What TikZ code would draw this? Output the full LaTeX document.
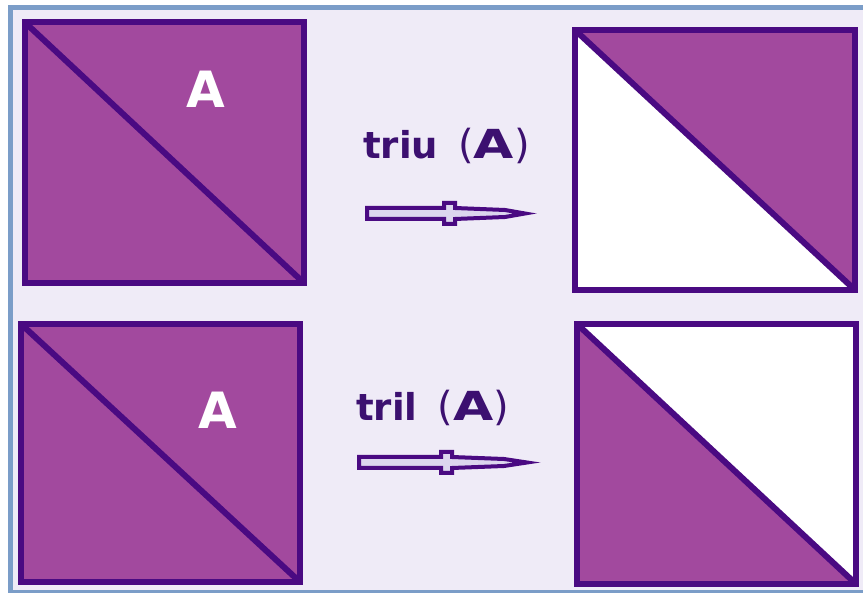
\documentclass[tikz,border=0pt]{standalone}
\usepackage{fontspec}
\setsansfont{DejaVu Sans}
\definecolor{framecol}{HTML}{7B9DC8}
\definecolor{bgcol}{HTML}{EFEBF7}
\definecolor{halfcol}{HTML}{A2499E}
\definecolor{edgecol}{HTML}{4A0A82}
\definecolor{textcol}{HTML}{3C1070}
\definecolor{arrowfill}{HTML}{DCD5EE}
\tikzset{
  matbox/.style={draw=edgecol, line width=6pt, line join=miter},
  halffill/.style={fill=halfcol},
  opname/.style={anchor=base west, inner sep=0pt, text=textcol,
    font=\sffamily\bfseries\fontsize{37}{40}\selectfont},
  matname/.style={inner sep=0pt, text=white,
    font=\sffamily\bfseries\fontsize{50}{54}\selectfont},
  fatarrow/.style={draw=edgecol, fill=arrowfill, line width=4pt, line join=miter}
}
\newcommand{\argA}{{\fontsize{40}{44}\selectfont{\mdseries(}\scalebox{1.3}[1]{A}{\mdseries)}}}

\begin{document}
\begin{tikzpicture}[x=1pt, y=-1pt]
    % frame
    \useasboundingbox (0,0) rectangle (863,593);
    \fill[white] (0,0) rectangle (863,593);
    \fill[framecol] (8,5) rectangle (870,600);
    \fill[bgcol] (13,10) rectangle (870,590);

    % A, top left
    \coordinate (a1) at (24.5,22);
    \coordinate (b1) at (304,283);
    \draw[matbox, halffill] (a1) rectangle (b1);
    \draw[matbox] (a1) -- (b1);
    \node[matname] (Atop) at (206,89) {A};

    % triu(A)
    \coordinate (a2) at (575,30);
    \coordinate (b2) at (855,290);
    \fill[white] (a2) rectangle (b2);
    \fill[halffill] (a2) -- (a2 -| b2) -- (b2) -- cycle;
    \draw[matbox] (a2) rectangle (b2);
    \draw[matbox] (a2) -- (b2);

    % A, bottom left
    \coordinate (a3) at (21,324);
    \coordinate (b3) at (300,582);
    \draw[matbox, halffill] (a3) rectangle (b3);
    \draw[matbox] (a3) -- (b3);
    \node[matname] (Abot) at (218,410) {A};

    % tril(A)
    \coordinate (a4) at (577,324);
    \coordinate (b4) at (856,584);
    \fill[white] (a4) rectangle (b4);
    \fill[halffill] (a4) -- (b4) -- (a4 |- b4) -- cycle;
    \draw[matbox] (a4) rectangle (b4);
    \draw[matbox] (a4) -- (b4);

    % operations
    \node[opname] (triu) at (363,159) {triu\hspace{20pt}\argA};
    \node[opname] (tril) at (356,421) {tril\hspace{20pt}\argA};

    \draw[fatarrow] (367,208) -- ++(77,0) -- ++(0,-5) -- ++(11,0) -- ++(0,5)
      -- ++(50,2) -- ++(20,3.5) -- ++(-20,3.5) -- ++(-50,2)
      -- ++(0,5) -- ++(-11,0) -- ++(0,-5) -- ++(-77,0) -- cycle;
    \draw[fatarrow] (359,457) -- ++(82,0) -- ++(0,-5) -- ++(11,0) -- ++(0,5)
      -- ++(52,2) -- ++(23,3.5) -- ++(-23,3.5) -- ++(-52,2)
      -- ++(0,5) -- ++(-11,0) -- ++(0,-5) -- ++(-82,0) -- cycle;
\end{tikzpicture}
\end{document}
